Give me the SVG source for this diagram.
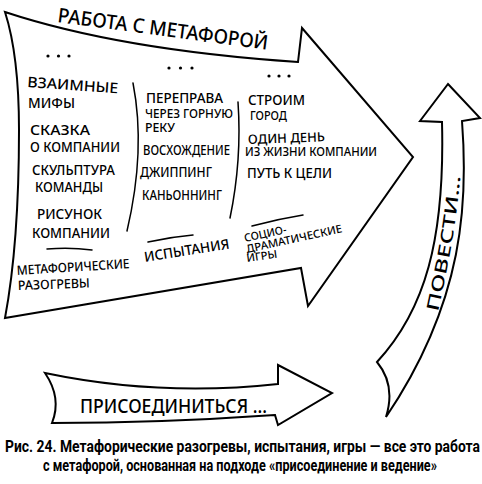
<svg xmlns="http://www.w3.org/2000/svg" width="482" height="484" viewBox="0 0 482 484">
<style>
.shape{fill:#fff;stroke:#000;stroke-width:2;stroke-linejoin:miter}
.ln{fill:none;stroke:#000;stroke-width:1.5;stroke-linecap:round}
.hw{font-family:"Noto Sans","DejaVu Sans",sans-serif;font-weight:500;fill:#000}
.cap{font-family:"Roboto","Liberation Sans",sans-serif;font-weight:bold;font-size:17px;fill:#000}
.dot{fill:#000}
</style>
<rect width="482" height="484" fill="#fff"/>
<g id="main-arrow">
<path class="shape" d="M5,12 Q120,50 298,62 L302,28 L413,157 L308,306 L301,268 Q150,294 5,318 C14,270 19,200 19,130 C19,80 14,40 5,12 Z"/>
<text class="hw" x="57" y="22" font-size="20" textLength="212" lengthAdjust="spacingAndGlyphs" transform="rotate(7.5 57 22)">РАБОТА С МЕТАФОРОЙ</text>
</g>
<g id="col-warmups">
<circle class="dot" cx="48" cy="56" r="1.6"/><circle class="dot" cx="58.5" cy="56" r="1.6"/><circle class="dot" cx="69" cy="56" r="1.6"/>
<text class="hw" x="27" y="87" font-size="14.5" textLength="91" lengthAdjust="spacingAndGlyphs" transform="rotate(4 27 87)">ВЗАИМНЫЕ</text>
<text class="hw" x="28" y="108" font-size="13.5" textLength="47" lengthAdjust="spacingAndGlyphs">МИФЫ</text>
<text class="hw" x="30" y="135" font-size="14.5" textLength="60" lengthAdjust="spacingAndGlyphs">СКАЗКА</text>
<text class="hw" x="30" y="152" font-size="14" textLength="90" lengthAdjust="spacingAndGlyphs">О КОМПАНИИ</text>
<text class="hw" x="32" y="175" font-size="14.5" textLength="83" lengthAdjust="spacingAndGlyphs">СКУЛЬПТУРА</text>
<text class="hw" x="35" y="192" font-size="14" textLength="68" lengthAdjust="spacingAndGlyphs">КОМАНДЫ</text>
<text class="hw" x="37" y="219" font-size="14.5" textLength="65" lengthAdjust="spacingAndGlyphs">РИСУНОК</text>
<text class="hw" x="32" y="238" font-size="14.5" textLength="78" lengthAdjust="spacingAndGlyphs">КОМПАНИИ</text>
<path class="ln" d="M133,83 Q146,150 127,231"/>
<path class="ln" d="M47,249 Q70,247 92,250"/>
<text class="hw" x="17" y="275" font-size="13" textLength="113" lengthAdjust="spacingAndGlyphs" transform="rotate(-3.5 17 275)">МЕТАФОРИЧЕСКИЕ</text>
<text class="hw" x="18" y="290" font-size="13" textLength="72" lengthAdjust="spacingAndGlyphs" transform="rotate(-2 18 290)">РАЗОГРЕВЫ</text>
</g>
<g id="col-trials">
<circle class="dot" cx="169" cy="68" r="1.6"/><circle class="dot" cx="180.5" cy="68" r="1.6"/><circle class="dot" cx="192" cy="68" r="1.6"/>
<text class="hw" x="146" y="103" font-size="13.5" textLength="77" lengthAdjust="spacingAndGlyphs">ПЕРЕПРАВА</text>
<text class="hw" x="145" y="118" font-size="12.5" textLength="88" lengthAdjust="spacingAndGlyphs">ЧЕРЕЗ ГОРНУЮ</text>
<text class="hw" x="145" y="132" font-size="12.5" textLength="30" lengthAdjust="spacingAndGlyphs">РЕКУ</text>
<text class="hw" x="143" y="155" font-size="13.5" textLength="87" lengthAdjust="spacingAndGlyphs">ВОСХОЖДЕНИЕ</text>
<text class="hw" x="140" y="177" font-size="13.5" textLength="72" lengthAdjust="spacingAndGlyphs">ДЖИППИНГ</text>
<text class="hw" x="142" y="200" font-size="13.5" textLength="80" lengthAdjust="spacingAndGlyphs">КАНЬОННИНГ</text>
<path class="ln" d="M238,102 Q242,160 230,218"/>
<path class="ln" d="M148,242 Q170,237 193,235"/>
<text class="hw" x="145" y="262" font-size="14" textLength="86" lengthAdjust="spacingAndGlyphs" transform="rotate(-9 145 262)">ИСПЫТАНИЯ</text>
</g>
<g id="col-games">
<circle class="dot" cx="269" cy="76" r="1.6"/><circle class="dot" cx="279" cy="76" r="1.6"/><circle class="dot" cx="289" cy="76" r="1.6"/>
<text class="hw" x="248" y="105" font-size="14" textLength="57" lengthAdjust="spacingAndGlyphs">СТРОИМ</text>
<text class="hw" x="250" y="120" font-size="12" textLength="37" lengthAdjust="spacingAndGlyphs">ГОРОД</text>
<text class="hw" x="248" y="144" font-size="13" textLength="77" lengthAdjust="spacingAndGlyphs" transform="rotate(-2 248 144)">ОДИН ДЕНЬ</text>
<text class="hw" x="245" y="156" font-size="12" textLength="132" lengthAdjust="spacingAndGlyphs">ИЗ ЖИЗНИ КОМПАНИИ</text>
<text class="hw" x="247" y="178" font-size="13.5" textLength="85" lengthAdjust="spacingAndGlyphs">ПУТЬ К ЦЕЛИ</text>
<path class="ln" d="M252,226 Q278,219 303,215"/>
<text class="hw" x="245" y="242" font-size="11" textLength="43" lengthAdjust="spacingAndGlyphs" transform="rotate(-12 245 242)">СОЦИО-</text>
<text class="hw" x="247" y="253" font-size="11" textLength="98" lengthAdjust="spacingAndGlyphs" transform="rotate(-12.3 247 253)">ДРАМАТИЧЕСКИЕ</text>
<text class="hw" x="247" y="262" font-size="11" textLength="31" lengthAdjust="spacingAndGlyphs" transform="rotate(-8 247 262)">ИГРЫ</text>
</g>
<g id="join-arrow">
<path class="shape" stroke-width="1.8" d="M45,373 Q160,397 278,384 L278,365 L332,393 L278,425 L275,415 Q160,423 52,423 Q62,398 45,373 Z"/>
<text class="hw" x="80" y="413" font-size="19" textLength="187" lengthAdjust="spacingAndGlyphs">ПРИСОЕДИНИТЬСЯ ...</text>
</g>
<g id="lead-arrow">
<path class="shape" stroke-width="1.6" d="M448,84 L480,118 L462,121 C468,200 465,300 386,417 Q396,385 377,362 C425,310 445,240 442,122 L420,121 Z"/>
<path id="leadPath" fill="none" stroke="none" d="M438,312 C447,270 456,230 461,168"/>
<text class="hw" font-size="17"><textPath href="#leadPath" textLength="138" lengthAdjust="spacingAndGlyphs">ПОВЕСТИ...</textPath></text>
</g>
<g id="connectors"></g>
<g id="caption">
<text class="cap" x="5.9" y="452" textLength="558.8" lengthAdjust="spacingAndGlyphs" transform="scale(0.85 1)">Рис. 24. Метафорические разогревы, испытания, игры — все это работа</text>
<text class="cap" x="50.6" y="471" textLength="463.5" lengthAdjust="spacingAndGlyphs" transform="scale(0.85 1)">с метафорой, основанная на подходе «присоединение и ведение»</text>
</g>
</svg>
